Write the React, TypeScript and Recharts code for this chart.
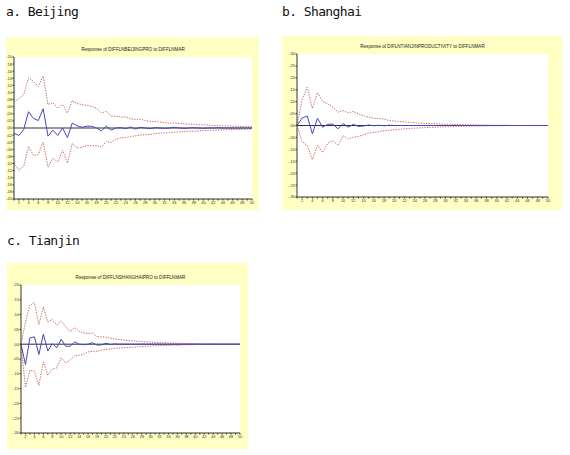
import {
  CartesianGrid,
  Line,
  LineChart,
  ReferenceLine,
  XAxis,
  YAxis,
} from "recharts";

// periods 1..50 of the impulse response
const periods = [
  1, 2, 3, 4, 5, 6, 7, 8, 9, 10, 11, 12, 13, 14, 15, 16, 17, 18, 19, 20, 21, 22, 23, 24, 25,
  26, 27, 28, 29, 30, 31, 32, 33, 34, 35, 36, 37, 38, 39, 40, 41, 42, 43, 44, 45, 46, 47, 48, 49, 50,
];

const beijingTicks = [
  0.2, 0.18, 0.16, 0.14, 0.12, 0.1, 0.08, 0.06, 0.04, 0.02, 0, -0.02, -0.04, -0.06, -0.08, -0.1,
  -0.12, -0.14, -0.16, -0.18, -0.2,
];
const shanghaiTicks = [0.3, 0.25, 0.2, 0.15, 0.1, 0.05, 0, -0.05, -0.1, -0.15, -0.2, -0.25, -0.3];
const tianjinTicks = [0.2, 0.15, 0.1, 0.05, 0, -0.05, -0.1, -0.15, -0.2, -0.25, -0.3];

// a. Beijing
const beijingResp = [
  -0.015, -0.021, -0.004, 0.046, 0.027, 0.021, 0.054, -0.023, -0.006, -0.021, 0.0, -0.027, 0.014,
  0.006, 0.002, 0.005, 0.005, 0.0, -0.008, 0.005, -0.006, 0.0, 0.001, -0.002, 0.003, -0.003, 0.002,
  0.0, -0.002, 0.001, 0.0, -0.001, 0.0, 0.002, 0.0, -0.001, 0.0, 0.001, 0.0, -0.001, 0.0, 0.0, 0.001,
  0.0, 0.0, 0.0, 0.0, 0.0, 0.0, 0.0,
];
const beijingUpper = [
  0.075, 0.082, 0.094, 0.141, 0.131, 0.117, 0.146, 0.066, 0.072, 0.056, 0.066, 0.042, 0.077, 0.069,
  0.066, 0.063, 0.061, 0.056, 0.042, 0.047, 0.034, 0.033, 0.031, 0.031, 0.026, 0.024, 0.025, 0.021,
  0.019, 0.018, 0.017, 0.015, 0.013, 0.015, 0.013, 0.012, 0.011, 0.01, 0.009, 0.009, 0.008, 0.007,
  0.007, 0.006, 0.006, 0.005, 0.005, 0.004, 0.004, 0.003,
];
const beijingLower = [
  -0.099, -0.119, -0.108, -0.052, -0.077, -0.075, -0.04, -0.11, -0.085, -0.096, -0.063, -0.099,
  -0.044, -0.056, -0.054, -0.049, -0.05, -0.05, -0.054, -0.038, -0.041, -0.031, -0.028, -0.027,
  -0.024, -0.022, -0.02, -0.019, -0.018, -0.016, -0.015, -0.014, -0.013, -0.012, -0.011, -0.01,
  -0.009, -0.009, -0.008, -0.007, -0.007, -0.006, -0.006, -0.005, -0.005, -0.004, -0.004, -0.004,
  -0.003, -0.003,
];

// b. Shanghai
const shanghaiResp = [
  0.0, 0.031, 0.04, -0.035, 0.03, -0.007, 0.005, 0.006, -0.014, 0.008, -0.007, 0.005, -0.004, -0.002,
  0.002, -0.001, 0.001, -0.001, 0.001, 0.0, 0.0, 0.0, 0.0, 0.0, 0.0, 0.0, 0.0, 0.0, 0.0, 0.0, 0.0, 0.0,
  0.0, 0.0, 0.0, 0.0, 0.0, 0.0, 0.0, 0.0, 0.0, 0.0, 0.0, 0.0, 0.0, 0.0, 0.0, 0.0, 0.0, 0.0,
];
const shanghaiUpper = [
  0.0, 0.108, 0.16, 0.072, 0.138, 0.101, 0.091, 0.077, 0.056, 0.063, 0.052, 0.059, 0.048, 0.041,
  0.035, 0.031, 0.029, 0.027, 0.021, 0.019, 0.017, 0.015, 0.013, 0.012, 0.01, 0.009, 0.008, 0.007,
  0.006, 0.005, 0.005, 0.004, 0.004, 0.003, 0.003, 0.002, 0.002, 0.002, 0.001, 0.001, 0.001, 0.001,
  0.0, 0.0, 0.0, 0.0, 0.0, 0.0, 0.0, 0.0,
];
const shanghaiLower = [
  0.0, -0.067, -0.085, -0.142, -0.083, -0.113, -0.074, -0.064, -0.084, -0.043, -0.057, -0.049,
  -0.046, -0.039, -0.032, -0.029, -0.026, -0.022, -0.02, -0.018, -0.016, -0.014, -0.012, -0.011,
  -0.01, -0.009, -0.008, -0.007, -0.006, -0.005, -0.005, -0.004, -0.003, -0.003, -0.002, -0.002,
  -0.002, -0.001, -0.001, -0.001, -0.001, 0.0, 0.0, 0.0, 0.0, 0.0, 0.0, 0.0, 0.0, 0.0,
];

// c. Tianjin
const tianjinResp = [
  0.0, -0.069, 0.021, 0.025, -0.035, 0.034, -0.023, 0.002, -0.012, 0.017, -0.007, -0.007, 0.008,
  0.0, -0.002, 0.0, 0.005, -0.003, -0.002, 0.003, -0.001, 0.001, 0.0, 0.0, 0.0, 0.0, 0.0, 0.0, 0.0,
  0.0, 0.0, 0.0, 0.0, 0.0, 0.0, 0.0, 0.0, 0.0, 0.0, 0.0, 0.0, 0.0, 0.0, 0.0, 0.0, 0.0, 0.0, 0.0, 0.0,
  0.0,
];
const tianjinUpper = [
  0.0, 0.075, 0.132, 0.14, 0.066, 0.126, 0.075, 0.084, 0.064, 0.078, 0.059, 0.042, 0.056, 0.044,
  0.038, 0.036, 0.038, 0.025, 0.025, 0.024, 0.02, 0.018, 0.016, 0.014, 0.012, 0.011, 0.01, 0.009,
  0.008, 0.007, 0.006, 0.005, 0.005, 0.004, 0.004, 0.003, 0.003, 0.002, 0.002, 0.002, 0.001, 0.001,
  0.001, 0.001, 0.0, 0.0, 0.0, 0.0, 0.0, 0.0,
];
const tianjinLower = [
  0.0, -0.146, -0.088, -0.091, -0.139, -0.06, -0.105, -0.084, -0.08, -0.046, -0.063, -0.054, -0.039,
  -0.037, -0.035, -0.026, -0.024, -0.024, -0.02, -0.018, -0.016, -0.014, -0.013, -0.012, -0.011,
  -0.01, -0.009, -0.008, -0.007, -0.006, -0.005, -0.005, -0.004, -0.004, -0.003, -0.003, -0.002,
  -0.002, -0.002, -0.001, -0.001, -0.001, -0.001, 0.0, 0.0, 0.0, 0.0, 0.0, 0.0, 0.0,
];

const PANEL_BG = "#ffffc4";
const AXIS = "#333";
const BLUE = "#4747bd";
const RED = "#c86464";

function fmtY(v: number) {
  if (v === 0) return ".00";
  const s = Math.abs(v).toFixed(2).replace(/^0/, "");
  return v < 0 ? `-${s}` : s;
}

interface Box {
  x: number;
  y: number;
  w: number;
  h: number;
}

interface PanelProps {
  label: string;
  labelPos: { x: number; y: number };
  title: string;
  panel: Box;
  plot: { l: number; t: number; r: number; b: number };
  yDomain: [number, number];
  yTicks: number[];
  resp: number[];
  upper: number[];
  lower: number[];
  zeroColor: string;
  zeroWidth: number;
}

function IrfPanel(props: PanelProps) {
  const { panel, plot } = props;
  const data = periods.map((p, i) => ({
    p,
    resp: props.resp[i],
    upper: props.upper[i],
    lower: props.lower[i],
  }));
  const yAxisW = plot.l - panel.x;
  const xAxisH = 6;
  const margin = {
    top: plot.t - panel.y,
    left: 0,
    right: panel.x + panel.w - plot.r,
    bottom: panel.y + panel.h - plot.b - xAxisH,
  };
  const tick = { fontSize: 4, fill: "#333", fontFamily: "Liberation Sans, Arial" };

  return (
    <>
      <div
        style={{
          position: "absolute",
          left: props.labelPos.x,
          top: props.labelPos.y,
          fontFamily: "DejaVu Sans Mono, monospace",
          fontSize: 13,
          letterSpacing: -0.6,
          lineHeight: "14px",
          color: "#111",
          whiteSpace: "pre",
        }}
      >
        {props.label}
      </div>
      <div
        style={{
          position: "absolute",
          left: panel.x,
          top: panel.y,
          width: panel.w,
          height: panel.h,
          background: PANEL_BG,
        }}
      >
        <div
          style={{
            position: "absolute",
            left: plot.l - panel.x,
            width: plot.r - plot.l,
            top: plot.t - panel.y - 10,
            textAlign: "center",
            fontFamily: "Liberation Sans, Arial",
            fontSize: 4.6,
            lineHeight: "6px",
            color: "#222",
            whiteSpace: "nowrap",
          }}
        >
          {props.title}
        </div>
        <LineChart width={panel.w} height={panel.h} data={data} margin={margin}>
          <CartesianGrid horizontal={false} vertical={false} fill="#ffffff" />
          <XAxis
            dataKey="p"
            type="number"
            domain={[1, 50]}
            ticks={periods}
            interval={0}
            height={xAxisH}
            tickSize={1.5}
            tickMargin={0.5}
            tick={tick}
            tickFormatter={(v: number) => (v % 2 === 0 ? String(v) : "")}
            stroke={AXIS}
          />
          <YAxis
            type="number"
            domain={props.yDomain}
            ticks={props.yTicks}
            interval={0}
            width={yAxisW}
            tickSize={1.5}
            tickMargin={0.5}
            tick={tick}
            tickFormatter={fmtY}
            stroke={AXIS}
            allowDataOverflow
          />
          <ReferenceLine y={0} stroke={props.zeroColor} strokeWidth={props.zeroWidth} />
          <Line
            dataKey="upper"
            type="linear"
            stroke={RED}
            strokeWidth={1}
            strokeDasharray="1.3 1.3"
            dot={false}
            isAnimationActive={false}
          />
          <Line
            dataKey="lower"
            type="linear"
            stroke={RED}
            strokeWidth={1}
            strokeDasharray="1.3 1.3"
            dot={false}
            isAnimationActive={false}
          />
          <Line
            dataKey="resp"
            type="linear"
            stroke={BLUE}
            strokeWidth={1}
            dot={false}
            isAnimationActive={false}
          />
        </LineChart>
      </div>
    </>
  );
}

export default function App() {
  return (
    <div
      style={{
        position: "absolute",
        left: 0,
        top: 0,
        width: 570,
        height: 455,
        background: "#ffffff",
        overflow: "hidden",
      }}
    >
      <IrfPanel
        label="a. Beijing"
        labelPos={{ x: 6, y: 5 }}
        title="Response of DIFFLNBEIJINGPRO to DIFFLNMAR"
        panel={{ x: 6, y: 37, w: 253, h: 173 }}
        plot={{ l: 14, t: 57, r: 252, b: 199 }}
        yDomain={[-0.2, 0.2]}
        yTicks={beijingTicks}
        resp={beijingResp}
        upper={beijingUpper}
        lower={beijingLower}
        zeroColor="#999999"
        zeroWidth={2}
      />
      <IrfPanel
        label="b. Shanghai"
        labelPos={{ x: 282, y: 5 }}
        title="Response of DIFLNTIANJINPRODUCTIVITY to DIFFLNMAR"
        panel={{ x: 282, y: 36, w: 280, h: 174 }}
        plot={{ l: 297, t: 54, r: 548, b: 197 }}
        yDomain={[-0.3, 0.3]}
        yTicks={shanghaiTicks}
        resp={shanghaiResp}
        upper={shanghaiUpper}
        lower={shanghaiLower}
        zeroColor="#2a2a40"
        zeroWidth={1}
      />
      <IrfPanel
        label="c. Tianjin"
        labelPos={{ x: 7, y: 234 }}
        title="Response of DIFFLNSHANGHAIPRO to DIFFLNMAR"
        panel={{ x: 7, y: 263, w: 241, h: 186 }}
        plot={{ l: 21, t: 285, r: 240, b: 433 }}
        yDomain={[-0.3, 0.2]}
        yTicks={tianjinTicks}
        resp={tianjinResp}
        upper={tianjinUpper}
        lower={tianjinLower}
        zeroColor="#2a2a40"
        zeroWidth={1}
      />
    </div>
  );
}
